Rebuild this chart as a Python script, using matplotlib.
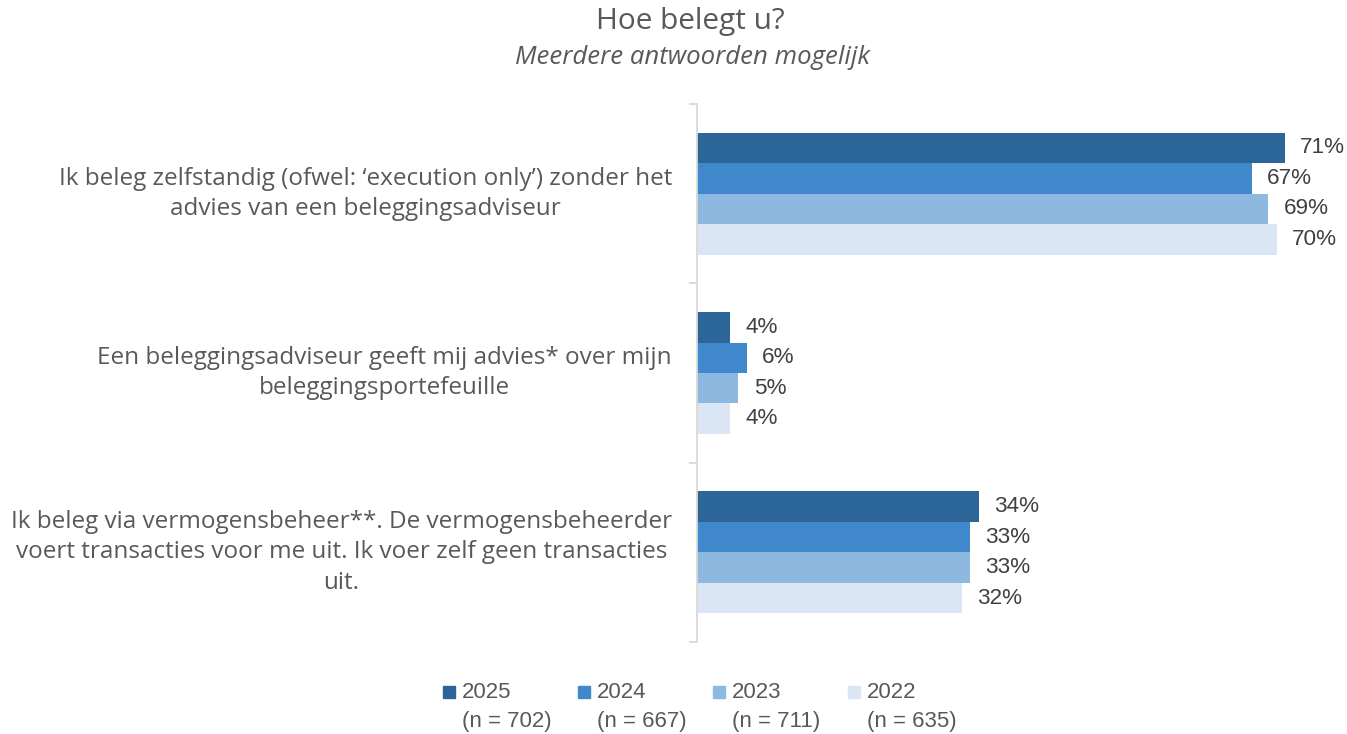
import matplotlib
matplotlib.use("Agg")
from matplotlib import pyplot as plt
from matplotlib.patches import Rectangle

# Data.
categories = [
    "Ik beleg zelfstandig (ofwel: \u2018execution only\u2019) zonder het\nadvies van een beleggingsadviseur",
    "Een beleggingsadviseur geeft mij advies* over mijn\nbeleggingsportefeuille",
    "Ik beleg via vermogensbeheer**. De vermogensbeheerder\nvoert transacties voor me uit. Ik voer zelf geen transacties\nuit.",
]
years = ["2025", "2024", "2023", "2022"]
n_resp = [702, 667, 711, 635]
pct_2025 = [71, 4, 34]
pct_2024 = [67, 6, 33]
pct_2023 = [69, 5, 33]
pct_2022 = [70, 4, 32]
series = [pct_2025, pct_2024, pct_2023, pct_2022]
colors = ["#2C6699", "#3F88CB", "#8DB8E0", "#DAE6F3"]

W, H = 1347, 734
fig = plt.figure(figsize=(W / 100, H / 100), dpi=100)
ax = fig.add_axes([697 / W, 1 - 642 / H, 621 / W, 538 / H])

bar_h = 0.17
for i, vals in enumerate(series):
    ypos = [c + (i - 1.5) * bar_h for c in range(len(categories))]
    ax.barh(ypos, vals, height=bar_h, color=colors[i], edgecolor="none")
    for y, v in zip(ypos, vals):
        ax.annotate(f"{v}%", (v, y), xytext=(11, 0), textcoords="offset points",
                    ha="left", va="center", fontsize=16.2, color="#404040",
                    family="Liberation Sans")

ax.set_xlim(0, 75)
ax.set_ylim(2.5, -0.5)
ax.set_xticks([])
for s in ["top", "right", "bottom"]:
    ax.spines[s].set_visible(False)
ax.spines["left"].set_color("#D9D9D9")
ax.spines["left"].set_linewidth(1.3)

# tick marks at group boundaries, labels at group centres
ax.set_yticks([-0.5, 0.5, 1.5, 2.5])
ax.set_yticklabels([])
ax.tick_params(axis="y", which="major", length=6, width=1.3, color="#D9D9D9")
ax.set_yticks(range(len(categories)), minor=True)
ax.set_yticklabels(categories, minor=True, fontsize=17.5, color="#595959",
                   family="Open Sans", multialignment="center", linespacing=1.35,
                   va="center")
ax.tick_params(axis="y", which="minor", length=0, pad=18)

fig.text(690 / W, 1 - 21 / H, "Hoe belegt u?", ha="center", va="center",
         fontsize=21.4, color="#595959", family="Open Sans")
fig.text(692 / W, 1 - 57 / H, "Meerdere antwoorden mogelijk", ha="center",
         va="center", fontsize=18.5, color="#595959", family="Open Sans", style="italic")

# legend
for i, (yr, n) in enumerate(zip(years, n_resp)):
    x0 = 443 + 135 * i
    fig.patches.append(Rectangle((x0 / W, 1 - 698 / H), 12 / W, 12 / H,
                                 transform=fig.transFigure, color=colors[i]))
    fig.text((x0 + 19) / W, 1 - 692 / H, yr, ha="left", va="center",
             fontsize=16, color="#595959", family="Liberation Sans")
    fig.text((x0 + 19) / W, 1 - 721 / H, f"(n = {n})", ha="left", va="center",
             fontsize=16, color="#595959", family="Liberation Sans")

plt.savefig("out.png", dpi=100)
